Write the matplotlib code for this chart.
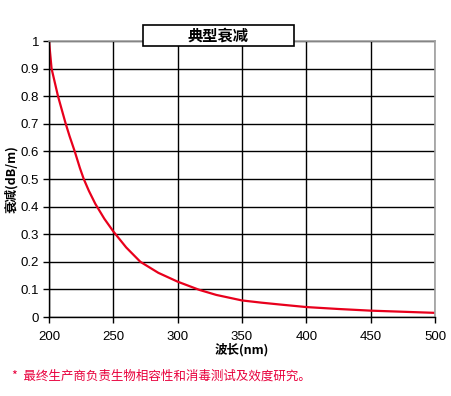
import matplotlib
matplotlib.use('Agg')
import matplotlib.pyplot as plt
from matplotlib.patches import Rectangle

# wavelength (nm) vs attenuation (dB/m)
wavelength = [200, 201, 202, 205, 207, 210, 213, 216, 220, 224, 227, 231, 236, 243, 250,
              260, 271, 285, 300, 317, 330, 350, 365, 380, 400, 425, 450, 475, 500]
attenuation = [1.0, 0.95, 0.9, 0.84, 0.8, 0.75, 0.7, 0.655, 0.6, 0.54, 0.5, 0.457, 0.41,
               0.356, 0.31, 0.252, 0.2, 0.16, 0.128, 0.098, 0.08, 0.06, 0.052, 0.045,
               0.036, 0.029, 0.023, 0.019, 0.015]
x_ticks = [200, 250, 300, 350, 400, 450, 500]
y_ticks = [0, 0.1, 0.2, 0.3, 0.4, 0.5, 0.6, 0.7, 0.8, 0.9, 1]

title = '典型衰减'
x_label = '波长(nm)'
y_label = '衰减(dB/m)'
footnote = '*  最终生产商负责生物相容性和消毒测试及效度研究。'

cjk = ['Noto Sans CJK SC', 'Liberation Sans', 'DejaVu Sans']
plt.rcParams['font.family'] = ['Liberation Sans', 'DejaVu Sans']

fig = plt.figure(figsize=(4.51, 3.96), dpi=100)
ax = fig.add_axes([49 / 451, 1 - 317 / 396, 386 / 451, 276 / 396])

ax.plot(wavelength, attenuation, color='#e8001c', linewidth=1.6)

ax.set_xlim(200, 500)
ax.set_ylim(0, 1)
ax.set_xticks(x_ticks)
ax.set_yticks(y_ticks)
ax.set_yticklabels([f'{v:g}' for v in y_ticks])
ax.grid(True, color='black', linewidth=1.0)
ax.set_axisbelow(True)
ax.tick_params(axis='both', direction='out', length=4, width=1, labelsize=9.5, pad=3)
ax.tick_params(axis='x', pad=6)

for side in ['left', 'bottom']:
    ax.spines[side].set_color('black')
    ax.spines[side].set_linewidth(1.0)
for side in ['top', 'right']:
    ax.spines[side].set_color('#a0a0a0')
    ax.spines[side].set_linewidth(1.2)

ax.set_xlabel(x_label, family=cjk, fontsize=9, fontweight='bold', labelpad=0)
ax.set_ylabel(y_label, family=cjk, fontsize=9, fontweight='bold', labelpad=2)

# title box sitting over the top edge of the plot
fig.patches.append(Rectangle((143 / 451, 1 - 46 / 396), 151 / 451, 21 / 396,
                             transform=fig.transFigure, facecolor='white',
                             edgecolor='black', linewidth=1.2, zorder=5))
fig.text(218.5 / 451, 1 - 35.5 / 396, title, family=cjk, fontsize=11,
         fontweight='bold', ha='center', va='center', zorder=6)

fig.text(12 / 451, 1 - 376 / 396, footnote, family=cjk, fontsize=9,
         color='#e8003c', ha='left', va='center')

fig.savefig('out.png', dpi=100)
